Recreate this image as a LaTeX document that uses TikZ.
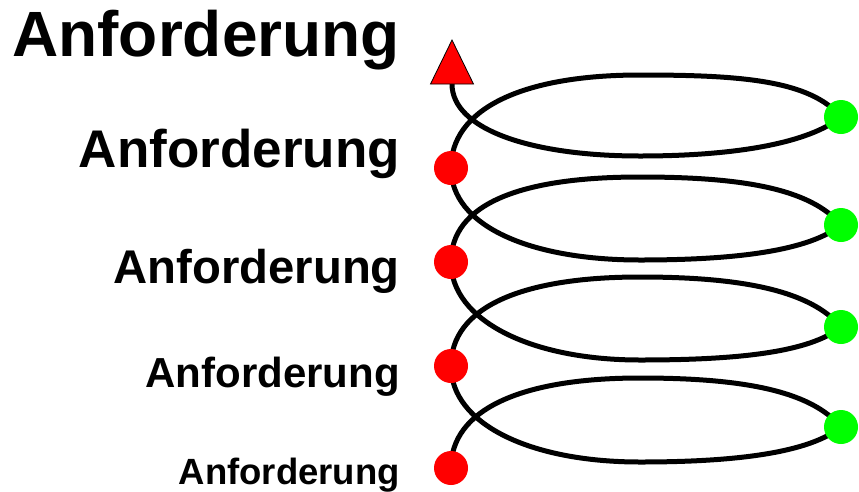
\documentclass[tikz,border=0pt]{standalone}
\usepackage{fontspec}
\setmainfont{Liberation Sans}
\usetikzlibrary{backgrounds,positioning,calc}

\begin{document}
\begin{tikzpicture}[x=1pt, y=-1pt,
        reddot/.style={circle, fill=red, minimum size=34pt, inner sep=0pt},
        greendot/.style={circle, fill=green, minimum size=34pt, inner sep=0pt},
        reqtext/.style={anchor=base east, inner sep=0pt},
        spiral/.style={line width=5pt}]
\useasboundingbox (0,0) rectangle (859,491);

\node (req1) [reqtext, font=\fontsize{64}{70}\selectfont\bfseries] at (400,56) {Anforderung};
\node (req2) [reqtext, font=\fontsize{53}{60}\selectfont\bfseries] at (400,167) {Anforderung};
\node (req3) [reqtext, font=\fontsize{47.3}{54}\selectfont\bfseries] at (400,283) {Anforderung};
\node (req4) [reqtext, font=\fontsize{42}{48}\selectfont\bfseries] at (400,387) {Anforderung};
\node (req5) [reqtext, font=\fontsize{36.5}{42}\selectfont\bfseries] at (400,484) {Anforderung};

\node (red1) [reddot] at (451,168) {};
\node (red2) [reddot] at (451,262) {};
\node (red3) [reddot] at (451,366) {};
\node (red4) [reddot] at (451,468) {};

\node (green1) [greendot] at (841,117) {};
\node (green2) [greendot] at (841,225) {};
\node (green3) [greendot] at (841,327) {};
\node (green4) [greendot] at (841,427) {};

\coordinate (top1) at (640,75);
\coordinate (bot1) at (640,156);
\coordinate (top2) at (640,177);
\coordinate (bot2) at (640,260);
\coordinate (top3) at (640,277);
\coordinate (bot3) at (640,360);
\coordinate (top4) at (640,378);
\coordinate (bot4) at (640,462);

\coordinate (tip) at (452,84);
\draw [fill=red, line width=0.8pt] (tip) ++(-21.5,0) -- ++(43,0) -- ++(-21.5,-44) -- cycle;

\begin{scope}[on background layer]
\foreach \i/\j in {4/3, 3/2, 2/1}
    \draw [spiral] (red\i.center) .. controls +(0,-58) and +(-120,0) .. (top\i)
        .. controls +(100,0) and +(-31,-37) .. (green\i.center)
        .. controls +(-31,25) and +(100,0) .. (bot\i)
        .. controls +(-110,0) and +(0,58) .. (red\j.center);
\draw [spiral] (red1.center) .. controls +(0,-58) and +(-120,0) .. (top1)
    .. controls +(100,0) and +(-31,-37) .. (green1.center)
    .. controls +(-31,25) and +(100,0) .. (bot1)
    .. controls +(-110,0) and +(0,45) .. (tip);
\end{scope}
\end{tikzpicture}
\end{document}
